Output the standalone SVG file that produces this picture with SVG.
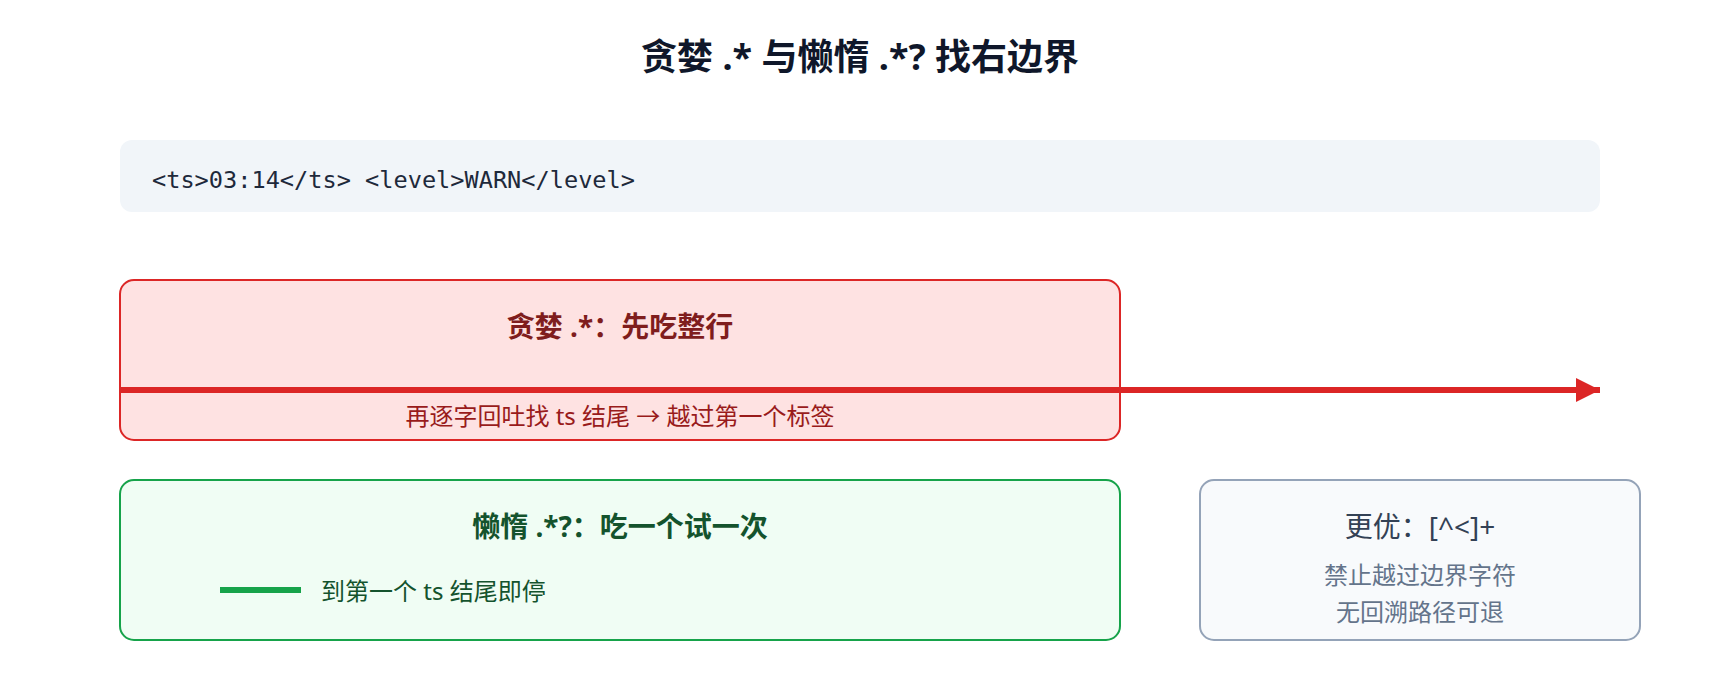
<svg xmlns="http://www.w3.org/2000/svg" width="1720" height="680" viewBox="0 0 1720 680">
  <defs>
    <style>
      .sans { font-family: "Noto Sans", "Noto Sans CJK SC", sans-serif; }
      .title { font-size: 36px; font-weight: 700; fill: #0f172a; text-anchor: middle; }
      .code { font-family: "DejaVu Sans Mono", "Liberation Mono", monospace; font-size: 23.6px; fill: #1e293b; }
      .h { font-size: 28px; font-weight: 700; text-anchor: middle; }
      .b { font-size: 24px; }
      .red-box { fill: #fee2e2; stroke: #dc2626; stroke-width: 2; }
      .green-box { fill: #f0fdf4; stroke: #16a34a; stroke-width: 2; }
      .gray-box { fill: #f8fafc; stroke: #94a3b8; stroke-width: 2; }
    </style>
    <marker id="arrowRed" markerUnits="userSpaceOnUse" markerWidth="26" markerHeight="26" refX="24" refY="12" orient="auto">
      <path d="M0,0 L24,12 L0,24 Z" fill="#dc2626"/>
    </marker>
  </defs>
  <rect width="1720" height="680" fill="#ffffff"/>

  <text class="sans title" x="860" y="70">贪婪 .* 与懒惰 .*? 找右边界</text>

  <g id="sample">
    <rect x="120" y="140" width="1480" height="72" rx="12" fill="#f1f5f9"/>
    <text class="code" x="152" y="188">&lt;ts&gt;03:14&lt;/ts&gt; &lt;level&gt;WARN&lt;/level&gt;</text>
  </g>

  <g id="greedy">
    <rect class="red-box" x="120" y="280" width="1000" height="160" rx="14"/>
    <text class="sans h" x="620" y="337" fill="#7f1d1d">贪婪 .*：先吃整行</text>
    <text class="sans b" x="620" y="425" fill="#991b1b" text-anchor="middle">再逐字回吐找 ts 结尾 → 越过第一个标签</text>
  </g>

  <g id="lazy">
    <rect class="green-box" x="120" y="480" width="1000" height="160" rx="14"/>
    <text class="sans h" x="620" y="537" fill="#14532d">懒惰 .*?：吃一个试一次</text>
    <line x1="220" y1="590" x2="301" y2="590" stroke="#16a34a" stroke-width="6"/>
    <text class="sans b" x="321" y="600" fill="#14532d">到第一个 ts 结尾即停</text>
  </g>

  <g id="better">
    <rect class="gray-box" x="1200" y="480" width="440" height="160" rx="14"/>
    <text class="sans" x="1420" y="537" font-size="28" fill="#334155" text-anchor="middle">更优：[^&lt;]+</text>
    <text class="sans" x="1420" y="584" font-size="24" fill="#64748b" text-anchor="middle">禁止越过边界字符</text>
    <text class="sans" x="1420" y="621" font-size="24" fill="#64748b" text-anchor="middle">无回溯路径可退</text>
  </g>

  <g id="connectors">
    <line x1="120" y1="390" x2="1600" y2="390" stroke="#dc2626" stroke-width="6" marker-end="url(#arrowRed)"/>
  </g>
</svg>
